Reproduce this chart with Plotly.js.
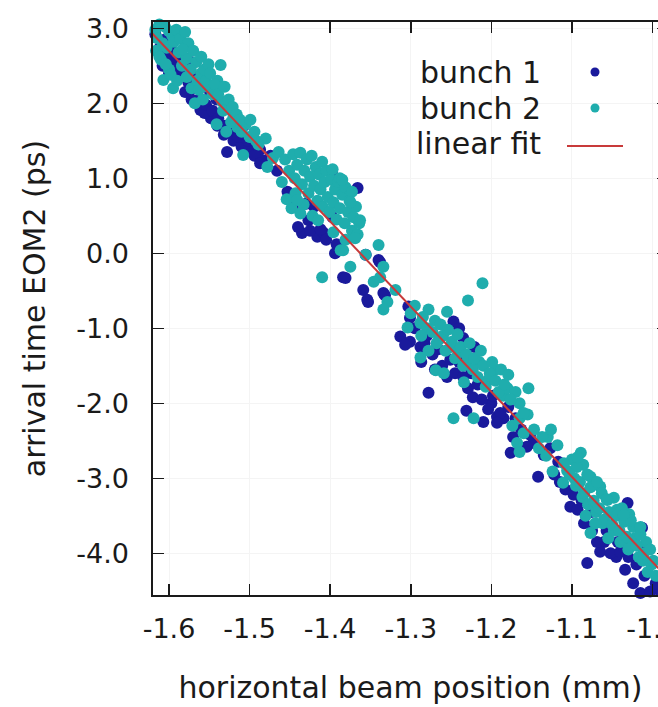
<!DOCTYPE html>
<html>
<head>
<meta charset="utf-8">
<script src="https://cdn.plot.ly/plotly-3.0.1.min.js"></script>
<style>
html,body{margin:0;padding:0;overflow:hidden;background:#fff;}
#chart{width:680px;height:707px;}
</style>
</head>
<body>
<div id="chart"></div>
<script>
// series: [horizontal beam position (mm), arrival time EOM2 (ps)]
const bunch1 = [
[-1.617,2.92],[-1.611,2.75],[-1.603,2.62],[-1.598,2.55],[-1.591,2.48],[-1.605,2.85],[-1.596,2.70],[-1.586,2.58],
[-1.608,2.50],[-1.600,2.40],[-1.590,2.38],[-1.580,2.15],[-1.572,2.05],[-1.560,1.98],[-1.548,1.80],[-1.540,1.70],[-1.532,1.58],[-1.520,1.50],[-1.510,1.42],[-1.500,1.38],
[-1.583,2.38],[-1.576,2.28],[-1.570,2.20],[-1.563,2.05],[-1.561,1.91],[-1.556,1.87],[-1.554,1.98],[-1.566,2.35],[-1.573,2.55],[-1.549,2.15],
[-1.546,1.90],[-1.539,1.80],[-1.531,1.70],[-1.528,1.35],[-1.521,1.60],[-1.514,1.55],[-1.507,1.70],[-1.541,2.05],
[-1.502,1.50],[-1.487,1.38],[-1.484,1.24],[-1.474,1.30],[-1.466,1.10],[-1.494,1.30],
[-1.366,0.87],[-1.397,1.04],[-1.446,0.64],[-1.435,0.27],[-1.416,0.22],[-1.409,0.28],[-1.427,0.44],[-1.453,0.82],[-1.384,-0.32],[-1.353,-0.65],[-1.340,-0.09],[-1.397,0.48],[-1.440,0.35],[-1.425,0.30],[-1.405,0.18],[-1.392,0.12],[-1.446,0.68],[-1.430,0.66],[-1.412,0.32],[-1.420,0.62],[-1.356,-0.02],[-1.334,-0.53],[-1.487,1.20],
[-1.394,0.00],[-1.381,-0.33],[-1.359,-0.49],[-1.354,-0.62],[-1.338,-0.12],[-1.332,-0.56],[-1.303,-0.71],[-1.301,-0.86],[-1.313,-1.11],[-1.301,-1.18],[-1.288,-1.25],[-1.307,-1.22],[-1.247,-0.91],[-1.235,-1.13],[-1.278,-1.86],
[-1.295,-1.00],[-1.280,-1.10],[-1.270,-1.55],[-1.255,-1.65],[-1.240,-1.45],[-1.225,-1.60],[-1.200,-2.00],[-1.185,-2.20],[-1.170,-2.20],
[-1.287,-1.45],[-1.283,-1.20],[-1.273,-1.35],[-1.266,-1.28],[-1.261,-1.50],[-1.251,-1.42],[-1.245,-1.60],[-1.235,-1.65],[-1.229,-1.80],[-1.223,-1.92],[-1.217,-1.75],[-1.212,-1.95],[-1.204,-2.08],[-1.198,-1.90],[-1.193,-2.18],[-1.189,-2.13],[-1.193,-2.26],[-1.179,-2.05],[-1.221,-1.25],[-1.240,-1.00],[-1.231,-2.10],[-1.210,-2.25],
[-1.176,-2.66],[-1.148,-2.53],[-1.135,-2.69],[-1.117,-2.78],[-1.142,-2.98],[-1.173,-2.45],[-1.163,-2.35],[-1.152,-2.42],[-1.127,-2.60],[-1.108,-3.15],[-1.156,-2.58],[-1.122,-2.95],
[-1.115,-3.05],[-1.098,-3.22],[-1.085,-3.60],[-1.075,-3.70],[-1.060,-3.85],[-1.045,-4.05],[-1.030,-4.05],[-1.010,-4.30],
[-1.102,-3.38],[-1.093,-3.42],[-1.031,-3.33],[-1.081,-4.13],[-1.065,-3.98],[-1.052,-4.00],[-1.040,-3.98],[-1.013,-3.66],[-1.009,-3.89],[-1.034,-4.22],[-1.024,-4.40],[-1.015,-4.53],[-1.003,-4.51],[-1.088,-3.30],[-1.076,-3.45],[-1.057,-3.70],[-1.069,-3.85],[-1.020,-4.15],[-0.994,-4.48],[-1.043,-3.85],[-0.996,-4.40]
];
const bunch2 = [
[-1.617,2.98],[-1.612,3.05],[-1.605,3.02],[-1.600,2.96],[-1.615,2.87],[-1.608,2.80],[-1.616,2.70],[-1.603,2.74],[-1.596,2.90],[-1.591,2.98],[-1.594,2.82],[-1.607,2.31],[-1.595,2.20],[-1.600,2.45],[-1.588,2.68],[-1.610,2.58],
[-1.612,2.62],[-1.604,2.52],[-1.598,2.38],[-1.590,2.30],[-1.584,2.50],[-1.578,2.60],[-1.572,2.20],[-1.565,2.30],[-1.560,2.40],[-1.552,2.22],[-1.546,2.12],[-1.540,2.30],[-1.534,2.02],[-1.528,1.92],[-1.520,1.82],[-1.515,1.68],[-1.505,1.72],[-1.500,1.55],[-1.492,1.50],
[-1.586,2.86],[-1.580,2.95],[-1.576,2.80],[-1.583,2.72],[-1.570,2.70],[-1.566,2.55],[-1.573,2.45],[-1.560,2.62],[-1.556,2.45],[-1.554,2.30],[-1.578,2.35],[-1.563,2.18],[-1.551,2.52],[-1.568,2.00],[-1.558,2.05],
[-1.549,2.40],[-1.543,2.25],[-1.536,2.51],[-1.539,2.12],[-1.531,2.22],[-1.526,2.05],[-1.533,1.90],[-1.521,1.95],[-1.516,1.85],[-1.523,1.75],[-1.512,1.78],[-1.508,1.31],[-1.541,1.72],[-1.529,1.62],[-1.510,1.62],
[-1.499,1.78],[-1.494,1.62],[-1.480,1.53],[-1.471,1.27],[-1.478,1.15],[-1.489,1.45],[-1.464,1.35],
[-1.456,1.25],[-1.451,1.10],[-1.446,1.32],[-1.444,1.00],[-1.441,1.18],[-1.437,1.34],[-1.435,0.92],[-1.432,1.10],[-1.429,1.25],[-1.427,0.80],[-1.425,1.02],[-1.423,1.30],[-1.420,0.90],[-1.418,1.15],[-1.416,0.70],[-1.414,1.05],[-1.412,0.85],[-1.410,1.22],[-1.409,0.62],[-1.407,0.95],[-1.405,1.10],[-1.403,0.75],[-1.401,0.55],[-1.399,0.98],[-1.397,1.12],[-1.396,0.68],[-1.394,0.85],[-1.392,0.45],[-1.390,0.95],[-1.388,0.60],[-1.385,0.78],[-1.382,0.40],[-1.381,0.88],[-1.378,0.55],[-1.376,0.70],[-1.373,0.30],[-1.371,0.48],[-1.368,0.62],[-1.366,0.25],[-1.364,0.40],[-1.443,0.80],[-1.448,0.60],[-1.460,0.95],[-1.454,0.72],[-1.433,0.65],[-1.422,0.50],[-1.410,-0.32],[-1.388,1.00],[-1.373,0.82],[-1.385,0.98],[-1.375,0.68],[-1.363,0.44],[-1.437,0.53],[-1.441,0.71],[-1.415,0.44],[-1.384,0.04],[-1.334,-0.18],[-1.338,-0.32],
[-1.375,-0.18],[-1.346,-0.38],[-1.329,-0.65],[-1.334,-0.75],[-1.319,-0.49],[-1.304,-0.99],[-1.288,-0.93],[-1.288,-1.39],[-1.278,-0.75],[-1.255,-0.78],[-1.269,-1.56],[-1.211,-0.40],[-1.229,-0.63],[-1.247,-2.20],[-1.222,-2.20],[-1.154,-1.80],[-1.396,0.28],[-1.381,0.18],[-1.369,0.20],[-1.387,0.04],[-1.356,-0.02],[-1.340,0.11],
[-1.300,-0.80],[-1.295,-0.70],[-1.285,-0.85],[-1.280,-1.00],[-1.270,-0.90],[-1.265,-1.15],[-1.250,-1.25],[-1.240,-1.30],[-1.230,-1.45],[-1.215,-1.45],[-1.205,-1.70],[-1.195,-1.55],[-1.185,-1.90],[-1.180,-1.80],[-1.170,-1.85],[-1.165,-2.00],
[-1.273,-1.05],[-1.268,-1.20],[-1.263,-0.95],[-1.260,-1.10],[-1.257,-1.30],[-1.254,-1.02],[-1.249,-1.18],[-1.245,-1.40],[-1.242,-1.08],[-1.238,-1.25],[-1.235,-1.50],[-1.231,-1.35],[-1.227,-1.20],[-1.223,-1.55],[-1.221,-1.40],[-1.217,-1.65],[-1.213,-1.30],[-1.210,-1.50],[-1.207,-1.78],[-1.202,-1.60],[-1.199,-1.45],[-1.195,-1.70],[-1.191,-1.85],[-1.188,-1.55],[-1.184,-1.75],[-1.179,-1.62],[-1.176,-1.95],[-1.259,-1.60],[-1.278,-1.30],[-1.287,-1.10],[-1.234,-1.72],
[-1.168,-2.53],[-1.130,-2.45],[-1.118,-2.56],[-1.124,-2.91],[-1.111,-3.06],[-1.089,-2.66],[-1.086,-2.82],[-1.048,-3.26],[-1.077,-3.73],[-1.006,-4.25],[-1.017,-4.05],[-1.027,-3.86],[-1.174,-2.30],[-1.165,-2.20],[-1.160,-2.40],[-1.155,-2.15],[-1.147,-2.35],[-1.141,-2.60],[-1.137,-2.45],[-1.132,-2.70],[-1.106,-2.90],[-1.100,-2.75],[-1.097,-3.00],[-1.094,-2.85],[-1.165,-2.65],[-1.160,-2.13],[-1.126,-2.35],[-1.093,-2.72],[-1.077,-2.98],[-1.065,-3.11],[-1.056,-3.29],[-1.044,-3.42],
[-1.110,-2.80],[-1.103,-2.95],[-1.095,-3.10],[-1.087,-3.25],[-1.080,-3.35],[-1.070,-3.45],[-1.062,-3.60],[-1.055,-3.80],[-1.048,-3.70],[-1.040,-3.85],[-1.030,-3.95],[-1.022,-3.80],[-1.012,-4.10],[-1.008,-3.85],
[-1.090,-3.05],[-1.085,-3.20],[-1.081,-2.95],[-1.077,-3.12],[-1.073,-3.30],[-1.069,-3.05],[-1.066,-3.40],[-1.063,-3.20],[-1.060,-3.55],[-1.057,-3.28],[-1.054,-3.45],[-1.050,-3.62],[-1.045,-3.50],[-1.041,-3.70],[-1.038,-3.40],[-1.035,-3.58],[-1.032,-3.78],[-1.029,-3.48],[-1.024,-3.65],[-1.020,-3.90],[-1.015,-3.75],[-1.011,-4.00],[-1.003,-3.95],[-1.001,-4.15],[-1.083,-3.50],[-1.071,-3.60],[-0.996,-4.30],[-1.015,-3.65],[-1.027,-3.56],[-1.036,-3.49],[-0.999,-4.10]
];
// linear fit parameters (ps per mm, ps)
const fitSlope = -11.35;
const fitIntercept = -15.466;
const fitXEnds = [-1.63, -0.97];

const xTickVals = [-1.6,-1.5,-1.4,-1.3,-1.2,-1.1,-1.0];
const xTickText = ["-1.6","-1.5","-1.4","-1.3","-1.2","-1.1","-1.0"];
const yTickVals = [-4,-3,-2,-1,0,1,2,3];
const yTickText = ["-4.0","-3.0","-2.0","-1.0","0.0","1.0","2.0","3.0"];
const legendLabels = ["bunch 1","bunch 2","linear fit"];

const C1 = '#1a1a9c', C2 = '#1fadad', CF = '#c83a3a';
const FONT = 'DejaVu Sans';
const INK = '#1a1a1a';

const traces = [
  {x: bunch1.map(p=>p[0]), y: bunch1.map(p=>p[1]), type:'scatter', mode:'markers', name:legendLabels[0],
   marker:{color:C1, size:12, line:{width:0}}, cliponaxis:false, showlegend:false},
  {x: bunch2.map(p=>p[0]), y: bunch2.map(p=>p[1]), type:'scatter', mode:'markers', name:legendLabels[1],
   marker:{color:C2, size:12, line:{width:0}}, cliponaxis:false, showlegend:false},
  {x: fitXEnds, y: fitXEnds.map(x=>fitSlope*x+fitIntercept), type:'scatter', mode:'lines', name:legendLabels[2],
   line:{color:CF, width:2}, cliponaxis:true, showlegend:false}
];

const axisCommon = {
  showline:true, linecolor:INK, linewidth:1.6, mirror:'ticks',
  ticks:'inside', ticklen:11, tickwidth:1.5, tickcolor:INK,
  showgrid:true, gridcolor:'#f4f4f4', gridwidth:1, zeroline:false,
  tickfont:{family:FONT, size:27, color:INK}, tickmode:'array'
};

// legend drawn gnuplot-style (text right, symbol to the right)
const W = 515, H = 573;
const lx = v => (v-153)/W, ly = v => (595-v)/H;
const legendRows = [72, 108, 143];
const annotations = legendLabels.map((t,i)=>({
  text:t, xref:'paper', yref:'paper', x:lx(543), y:ly(legendRows[i]), xanchor:'right', yanchor:'middle',
  showarrow:false, font:{family:FONT, size:30, color:INK}
}));
const r = 4.5;
const shapes = [
  {type:'circle', xref:'paper', yref:'paper', x0:lx(595-r), x1:lx(595+r), y0:ly(72+r), y1:ly(72-r), fillcolor:C1, line:{width:0}},
  {type:'circle', xref:'paper', yref:'paper', x0:lx(595-r), x1:lx(595+r), y0:ly(108+r), y1:ly(108-r), fillcolor:C2, line:{width:0}},
  {type:'line', xref:'paper', yref:'paper', x0:lx(567), x1:lx(623), y0:ly(146), y1:ly(146), line:{color:CF, width:2}}
];

const layout = {
  width:680, height:707,
  margin:{l:153, r:12, t:22, b:112},
  paper_bgcolor:'#fff', plot_bgcolor:'#fff',
  showlegend:false,
  xaxis: Object.assign({}, axisCommon, {
    range:[-1.6199, -0.9808], tickvals:xTickVals, ticktext:xTickText, ticklabelstandoff:9,
    title:{text:'horizontal beam position (mm)', font:{family:FONT, size:30, color:INK}, standoff:34}
  }),
  yaxis: Object.assign({}, axisCommon, {
    range:[-4.556, 3.084], tickvals:yTickVals, ticktext:yTickText, ticklabelstandoff:17,
    title:{text:'arrival time EOM2 (ps)', font:{family:FONT, size:30, color:INK}, standoff:22}
  }),
  annotations: annotations,
  shapes: shapes
};

Plotly.newPlot('chart', traces, layout, {displayModeBar:false, staticPlot:true});
</script>
</body>
</html>
